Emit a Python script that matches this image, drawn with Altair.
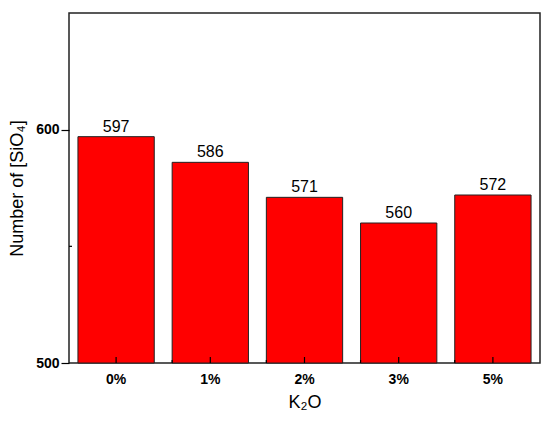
import altair as alt
import pandas as pd

categories = ["0%", "1%", "2%", "3%", "5%"]
values = [597, 586, 571, 560, 572]
minor_cats = ["1%", "2%", "3%", "5%"]

df = pd.DataFrame({"k": categories, "n": values})
dm = pd.DataFrame({"k": minor_cats})

W, H = 471, 350
FONT = "Arial"

xsc = alt.Scale(domain=categories, paddingInner=0.19, paddingOuter=0.095)
ysc = alt.Scale(domain=[500, 650], nice=False, zero=False)

bars = alt.Chart(df).mark_bar(color="#ff0000", stroke="#222222", strokeWidth=1).encode(
    x=alt.X("k:N", scale=xsc, sort=categories,
            axis=alt.Axis(title="K₂O", labelAngle=0, ticks=False, domain=False,
                          labelFont=FONT, labelFontSize=14, labelFontWeight="bold",
                          labelColor="black", labelPadding=9,
                          titleFont=FONT, titleFontSize=18, titleFontWeight="normal",
                          titleColor="black", titlePadding=7)),
    y=alt.Y("n:Q", scale=ysc,
            axis=alt.Axis(title="Number of [SiO₄]", values=[500, 600], grid=False,
                          domain=False, tickSize=8, tickColor="black", tickWidth=1.2,
                          labelFont=FONT, labelFontSize=14, labelFontWeight="bold",
                          labelColor="black", labelPadding=2,
                          titleFont=FONT, titleFontSize=18, titleFontWeight="normal",
                          titleColor="black", titlePadding=9)),
    y2=alt.datum(500),
)

labels = alt.Chart(df).mark_text(font=FONT, fontSize=16, color="black", dy=-10).encode(
    x=alt.X("k:N", scale=xsc, sort=categories),
    y=alt.Y("n:Q", scale=ysc),
    text=alt.Text("n:Q"),
)

major_ticks = alt.Chart(df).mark_rule(color="black", strokeWidth=1.2).encode(
    x=alt.X("k:N", scale=xsc, sort=categories),
    y=alt.value(H),
    y2=alt.value(H - 6),
)

minor_ticks = alt.Chart(dm).mark_rule(color="black", strokeWidth=1.2).encode(
    x=alt.X("k:N", scale=xsc, sort=categories, bandPosition=0),
    y=alt.value(H),
    y2=alt.value(H - 3),
)

y_minor = alt.Chart(pd.DataFrame({"v": [550]})).mark_rule(color="black", strokeWidth=1.2).encode(
    y=alt.Y("v:Q", scale=ysc),
    x=alt.value(0),
    x2=alt.value(3),
)

chart = alt.layer(bars, labels, major_ticks, minor_ticks, y_minor).properties(
    width=W, height=H,
    autosize=alt.AutoSizeParams(type="none"),
    padding={"left": 61, "top": 5, "right": 2, "bottom": 55},
).configure(background="white").configure_view(stroke="#222222", strokeWidth=1.5)

chart.save("out.html", embed_options={"renderer": "svg", "actions": False})
